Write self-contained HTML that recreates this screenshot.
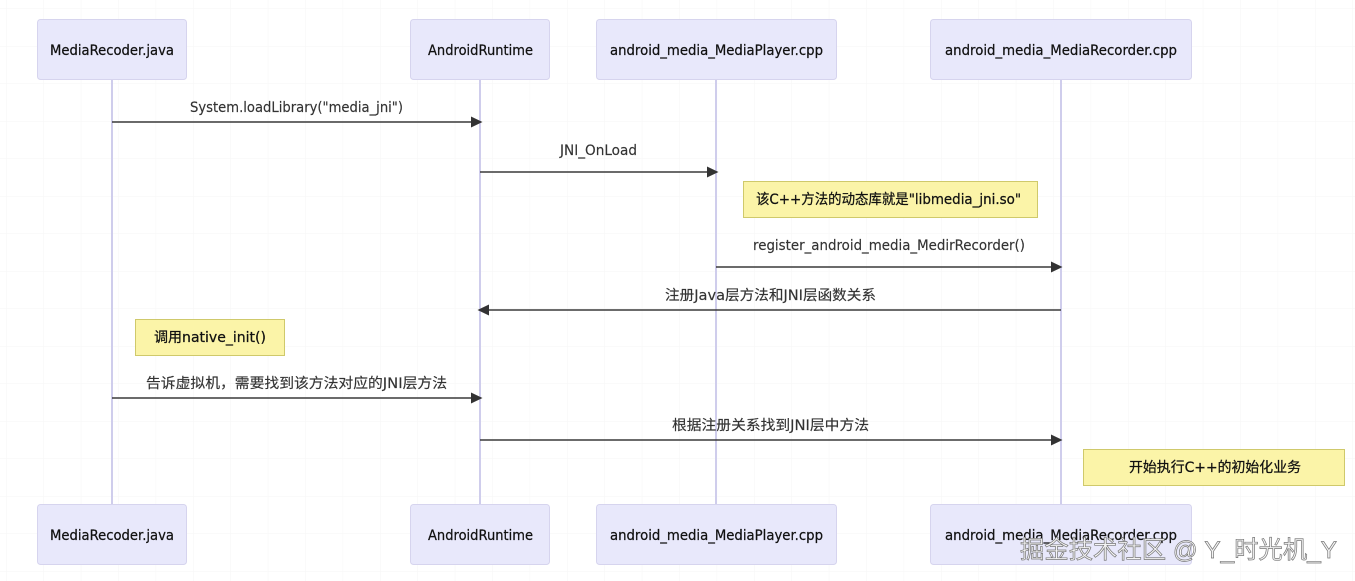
<!DOCTYPE html>
<html><head><meta charset="utf-8">
<style>
html,body{margin:0;padding:0;background:#fff;width:1355px;height:581px;overflow:hidden}
svg{display:block}
text{font-family:"DejaVu Sans","Noto Sans CJK SC",sans-serif;font-size:14px;fill:#333;stroke:#333;stroke-width:.15}
.a{fill:#111;stroke:#111;stroke-width:.25}
.box{fill:#e8e8fb;stroke:#d6d4ee;stroke-width:1}
.note{fill:#fbf4a8;stroke:#cfc96b;stroke-width:1}
.life{stroke:#cfcdec;stroke-width:2}
.msg{stroke:#3a3a3a;stroke-width:1.5}
.wm{font-family:"Liberation Sans","Noto Sans CJK SC",sans-serif;font-size:24.5px;fill:#f4f4f4;stroke:#777;stroke-width:.7}
</style></head><body>
<svg width="1355" height="581" viewBox="0 0 1355 581" xmlns="http://www.w3.org/2000/svg">
<defs>
<pattern id="g" x="6" y="8.5" width="37.4" height="37.5" patternUnits="userSpaceOnUse">
<path d="M0 0V37.5M0 0H37.4" fill="none" stroke="#f6f6f6" stroke-width="1"/>
</pattern>
</defs>
<rect width="1355" height="581" fill="#fff"/>
<rect width="1355" height="581" fill="url(#g)"/>

<line class="life" x1="112" y1="79" x2="112" y2="504"/>
<line class="life" x1="480" y1="79" x2="480" y2="504"/>
<line class="life" x1="716" y1="79" x2="716" y2="504"/>
<line class="life" x1="1061" y1="79" x2="1061" y2="504"/>

<rect class="box" x="37.5" y="19.5" width="149" height="60" rx="3"/>
<rect class="box" x="410.5" y="19.5" width="139" height="60" rx="3"/>
<rect class="box" x="596.5" y="19.5" width="240" height="60" rx="3"/>
<rect class="box" x="930.5" y="19.5" width="261" height="60" rx="3"/>
<rect class="box" x="37.5" y="504.5" width="149" height="60" rx="3"/>
<rect class="box" x="410.5" y="504.5" width="139" height="60" rx="3"/>
<rect class="box" x="596.5" y="504.5" width="240" height="60" rx="3"/>
<rect class="box" x="930.5" y="504.5" width="261" height="60" rx="3"/>

<text class="a" x="50" y="55" textLength="124" lengthAdjust="spacingAndGlyphs">MediaRecoder.java</text>
<text class="a" x="428" y="55" textLength="105" lengthAdjust="spacingAndGlyphs">AndroidRuntime</text>
<text class="a" x="610" y="55" textLength="213" lengthAdjust="spacingAndGlyphs">android_media_MediaPlayer.cpp</text>
<text class="a" x="945" y="55" textLength="232" lengthAdjust="spacingAndGlyphs">android_media_MediaRecorder.cpp</text>
<text class="a" x="50" y="540" textLength="124" lengthAdjust="spacingAndGlyphs">MediaRecoder.java</text>
<text class="a" x="428" y="540" textLength="105" lengthAdjust="spacingAndGlyphs">AndroidRuntime</text>
<text class="a" x="610" y="540" textLength="213" lengthAdjust="spacingAndGlyphs">android_media_MediaPlayer.cpp</text>
<text class="a" x="945" y="540" textLength="232" lengthAdjust="spacingAndGlyphs">android_media_MediaRecorder.cpp</text>

<rect class="note" x="743.5" y="181.5" width="294" height="36"/>
<rect class="note" x="135.5" y="319.5" width="149" height="36"/>
<rect class="note" x="1083.5" y="449.5" width="261" height="36"/>
<text class="a" x="756" y="204" textLength="265" lengthAdjust="spacingAndGlyphs">该C++方法的动态库就是"libmedia_jni.so"</text>
<text class="a" x="154" y="342" textLength="112" lengthAdjust="spacingAndGlyphs">调用native_init()</text>
<text class="a" x="1129" y="472" textLength="172" lengthAdjust="spacingAndGlyphs">开始执行C++的初始化业务</text>

<line class="msg" x1="112" y1="122" x2="474" y2="122"/><path d="M471 116.500L482.500 122L471 127.500Z" fill="#333"/>
<line class="msg" x1="480" y1="172" x2="710" y2="172"/><path d="M707 166.500L718.500 172L707 177.500Z" fill="#333"/>
<line class="msg" x1="716" y1="267" x2="1054" y2="267"/><path d="M1051 261.500L1062.500 267L1051 272.500Z" fill="#333"/>
<line class="msg" x1="1061" y1="310" x2="486" y2="310"/><path d="M489 304.500L477.500 310L489 315.500Z" fill="#333"/>
<line class="msg" x1="112" y1="398" x2="474" y2="398"/><path d="M471 392.500L482.500 398L471 403.500Z" fill="#333"/>
<line class="msg" x1="480" y1="440" x2="1054" y2="440"/><path d="M1051 434.500L1062.500 440L1051 445.500Z" fill="#333"/>

<text x="190" y="112" textLength="213" lengthAdjust="spacingAndGlyphs">System.loadLibrary("media_jni")</text>
<text x="560" y="155" textLength="77" lengthAdjust="spacingAndGlyphs">JNI_OnLoad</text>
<text x="753" y="250" textLength="272" lengthAdjust="spacingAndGlyphs">register_android_media_MedirRecorder()</text>
<text x="665" y="300" textLength="211" lengthAdjust="spacingAndGlyphs">注册Java层方法和JNI层函数关系</text>
<text x="146" y="388" textLength="301" lengthAdjust="spacingAndGlyphs">告诉虚拟机，需要找到该方法对应的JNI层方法</text>
<text x="672" y="430" textLength="197" lengthAdjust="spacingAndGlyphs">根据注册关系找到JNI层中方法</text>

<text class="wm" x="1020" y="558" textLength="317" lengthAdjust="spacingAndGlyphs">掘金技术社区 @ Y_时光机_Y</text>
</svg>
</body></html>
